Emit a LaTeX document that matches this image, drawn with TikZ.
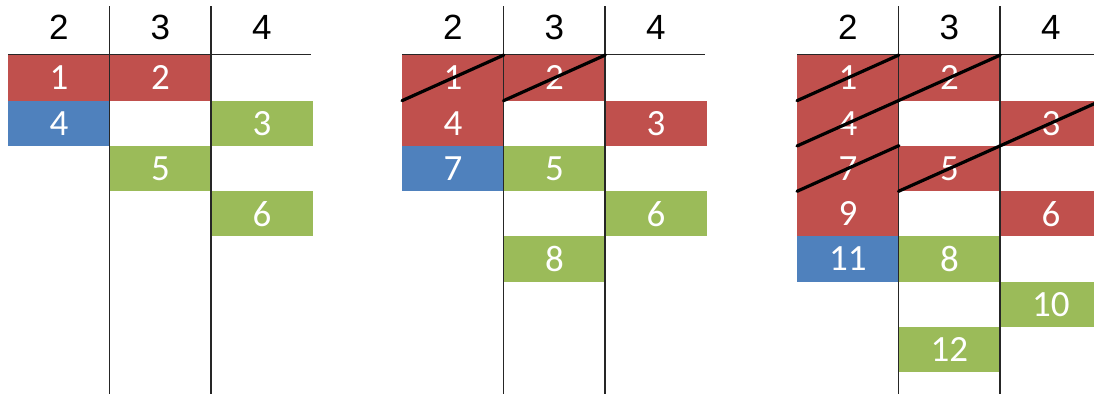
\documentclass[tikz,border=0pt]{standalone}
\usepackage{fontspec}
\newfontfamily\headfont{Liberation Sans}
\newfontfamily\cellfont{Carlito}
\definecolor{boxred}{HTML}{C0504D}
\definecolor{boxblue}{HTML}{4F81BD}
\definecolor{boxgreen}{HTML}{9BBB59}
\tikzset{
    cell/.style={anchor=north west, minimum width=101.5pt, minimum height=45.3pt,
        inner sep=0pt, text=white, font=\cellfont\fontsize{37}{37}\selectfont},
    redcell/.style={cell, fill=boxred},
    bluecell/.style={cell, fill=boxblue},
    greencell/.style={cell, fill=boxgreen},
    head/.style={font=\headfont\fontsize{35}{35}\selectfont, inner sep=0pt},
    rule/.style={line width=1.4pt, black!85},
    strike/.style={line width=3.2pt, line cap=round}
}
\begin{document}
\begin{tikzpicture}[x=1pt, y=-1pt]
    \useasboundingbox (0,0) rectangle (1094,394);

    % Panel 1
    \begin{scope}[xshift=8pt]
        \node[redcell] (p1n1) at (0,55) {1};
        \node[bluecell] (p1n4) at (0,100.3) {4};
        \node[redcell] (p1n2) at (101.5,55) {2};
        \node[greencell] (p1n5) at (101.5,145.6) {5};
        \node[greencell] (p1n3) at (203,100.3) {3};
        \node[greencell] (p1n6) at (203,190.9) {6};
        % Grid
        \draw[rule] (0,54.5) -- (303,54.5);
        \draw[rule] (101.5,6) -- (101.5,394);
        \draw[rule] (203,6) -- (203,394);
        \node[head] (p1h2) at (50.75,27) {2};
        \node[head] (p1h3) at (152.25,27) {3};
        \node[head] (p1h4) at (253.75,27) {4};
    \end{scope}

    % Panel 2
    \begin{scope}[xshift=402pt]
        \node[redcell] (p2n1) at (0,55) {1};
        \node[redcell] (p2n4) at (0,100.3) {4};
        \node[bluecell] (p2n7) at (0,145.6) {7};
        \node[redcell] (p2n2) at (101.5,55) {2};
        \node[greencell] (p2n5) at (101.5,145.6) {5};
        \node[greencell] (p2n8) at (101.5,236.2) {8};
        \node[redcell] (p2n3) at (203,100.3) {3};
        \node[greencell] (p2n6) at (203,190.9) {6};
        % Grid
        \draw[rule] (0,54.5) -- (303,54.5);
        \draw[rule] (101.5,6) -- (101.5,394);
        \draw[rule] (203,6) -- (203,394);
        \node[head] (p2h2) at (50.75,27) {2};
        \node[head] (p2h3) at (152.25,27) {3};
        \node[head] (p2h4) at (253.75,27) {4};
        % Crossed out
        \draw[strike] (p2n1.south west) -- (p2n1.north east);
        \draw[strike] (p2n2.south west) -- (p2n2.north east);
    \end{scope}

    % Panel 3
    \begin{scope}[xshift=797pt]
        \node[redcell] (p3n1) at (0,55) {1};
        \node[redcell] (p3n4) at (0,100.3) {4};
        \node[redcell] (p3n7) at (0,145.6) {7};
        \node[redcell] (p3n9) at (0,190.9) {9};
        \node[bluecell] (p3n11) at (0,236.2) {11};
        \node[redcell] (p3n2) at (101.5,55) {2};
        \node[redcell] (p3n5) at (101.5,145.6) {5};
        \node[greencell] (p3n8) at (101.5,236.2) {8};
        \node[greencell] (p3n12) at (101.5,326.8) {12};
        \node[redcell] (p3n3) at (203,100.3) {3};
        \node[redcell] (p3n6) at (203,190.9) {6};
        \node[greencell] (p3n10) at (203,281.5) {10};
        % Grid
        \draw[rule] (0,54.5) -- (303,54.5);
        \draw[rule] (101.5,6) -- (101.5,394);
        \draw[rule] (203,6) -- (203,394);
        \node[head] (p3h2) at (50.75,27) {2};
        \node[head] (p3h3) at (152.25,27) {3};
        \node[head] (p3h4) at (253.75,27) {4};
        % Crossed out
        \draw[strike] (p3n1.south west) -- (p3n1.north east);
        \draw[strike] (p3n4.south west) -- (p3n2.north east);
        \draw[strike] (p3n7.south west) -- (p3n7.north east);
        \draw[strike] (p3n5.south west) -- (p3n3.north east);
    \end{scope}
\end{tikzpicture}
\end{document}
